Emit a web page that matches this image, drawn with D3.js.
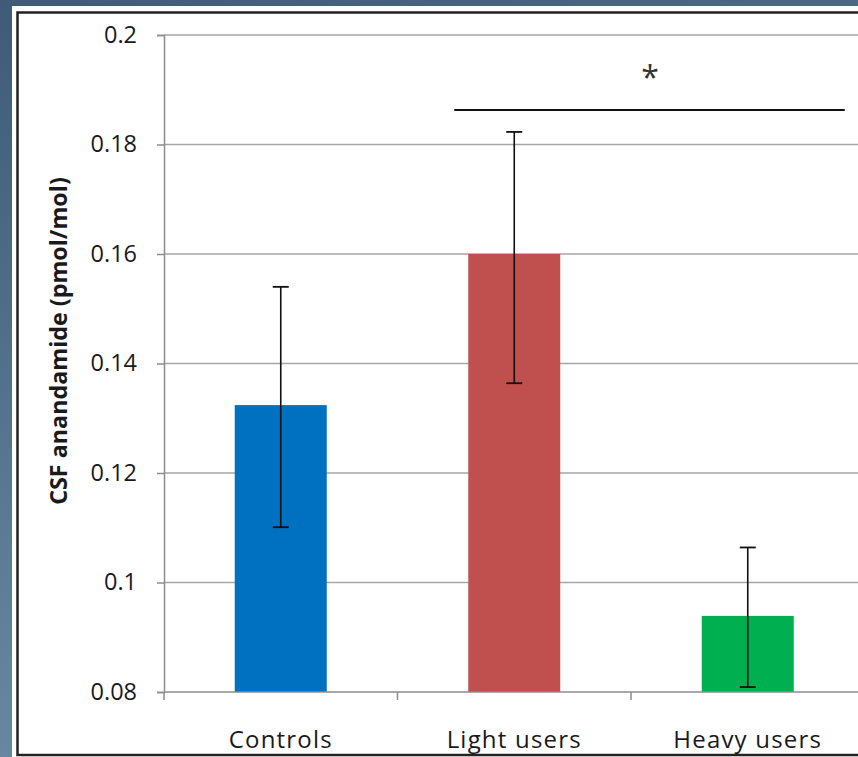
<!DOCTYPE html>
<html><head><meta charset="utf-8">
<script src="https://cdn.jsdelivr.net/npm/d3@7"></script>
<style>html,body{margin:0;padding:0;background:#4a6680;}svg{display:block;}</style>
</head><body>
<script>
const categories = ["Controls", "Light users", "Heavy users"];
const means = [0.1324, 0.160, 0.0939];
const errUpper = [0.154, 0.1823, 0.1064];
const errLower = [0.1101, 0.1364, 0.0809];
const colors = ["#0070c0", "#c0504d", "#00b050"];
const yTicks = [0.08, 0.1, 0.12, 0.14, 0.16, 0.18, 0.2];
const yTickLabels = ["0.08", "0.1", "0.12", "0.14", "0.16", "0.18", "0.2"];
const yLabel = "CSF anandamide (pmol/mol)";
const sigLabel = "*";
const sigPair = ["Light users", "Heavy users"];

const W = 858, H = 757;
const FONT = "'Open Sans', sans-serif";
const svg = d3.select("body").append("svg").attr("width", W).attr("height", H);
const defs = svg.append("defs");
const grad = defs.append("linearGradient").attr("id","bg").attr("x1","0").attr("y1","0").attr("x2","0.3").attr("y2","1");
grad.append("stop").attr("offset","0").attr("stop-color","#3f5b77");
grad.append("stop").attr("offset","1").attr("stop-color","#6b8ba4");
svg.append("rect").attr("width",W).attr("height",H).attr("fill","url(#bg)");
// white card
svg.append("rect").attr("x",12).attr("y",6).attr("width",W).attr("height",H).attr("fill","#fff");
// black frame
svg.append("rect").attr("x",17.5).attr("y",12.5).attr("width",W+10).attr("height",742.5)
  .attr("fill","none").attr("stroke","#222").attr("stroke-width",2.5);

const x0 = 164, bandW = 233.5;
const x = d3.scaleBand().domain(categories).range([x0, x0 + bandW*3]).paddingInner(0).paddingOuter(0);
const y = d3.scaleLinear().domain([0.08, 0.2]).range([692, 35]);

const g = svg.append("g");
// gridlines
g.selectAll("line.grid").data(yTicks.slice(1)).join("line")
  .attr("x1", x0).attr("x2", W).attr("y1", d=>y(d)).attr("y2", d=>y(d))
  .attr("stroke","#a6a6a6").attr("stroke-width",1.5);

// bars
const barW = 92;
g.selectAll("rect.bar").data(categories).join("rect")
  .attr("x", d => x(d) + x.bandwidth()/2 - barW/2)
  .attr("width", barW)
  .attr("y", (d,i) => y(means[i]))
  .attr("height", (d,i) => y(0.08) - y(means[i]))
  .attr("fill", (d,i) => colors[i]);

// y axis
const yAxis = d3.axisLeft(y).tickValues(yTicks).tickFormat((d,i)=>yTickLabels[i]).tickSize(7).tickPadding(20);
const ya = svg.append("g").attr("transform",`translate(${x0},0)`).call(yAxis);
ya.select(".domain").attr("stroke","#8c8c8c").attr("stroke-width",1.5);
ya.selectAll(".tick line").attr("stroke","#8c8c8c").attr("stroke-width",1.5);
ya.selectAll(".tick text").attr("font-family",FONT).attr("font-size",23.5).attr("fill","#1a1a1a").attr("dy","0.3em");

// x axis
const xAxis = d3.axisBottom(x).tickSize(0).tickPadding(0);
const xa = svg.append("g").attr("transform",`translate(0,${y(0.08)})`).call(xAxis);
xa.select(".domain").remove();
xa.append("line").attr("x1",x0).attr("x2",W).attr("stroke","#8c8c8c").attr("stroke-width",1.5);
xa.selectAll(".tick text").attr("font-family",FONT).attr("font-size",24).attr("fill","#1a1a1a")
  .attr("y",56).attr("dy",0).attr("letter-spacing","1.2px");
// category boundary ticks
const bounds = [x0, x0 + bandW, x0 + 2*bandW];
xa.selectAll("line.bt").data(bounds).join("line").attr("class","bt")
  .attr("x1",d=>d).attr("x2",d=>d).attr("y1",0).attr("y2",8)
  .attr("stroke","#8c8c8c").attr("stroke-width",1.5);

// error bars
const eb = g.selectAll("g.eb").data(categories).join("g");
eb.append("line")
  .attr("x1", d => x(d)+x.bandwidth()/2).attr("x2", d => x(d)+x.bandwidth()/2)
  .attr("y1", (d,i)=>y(errUpper[i])).attr("y2",(d,i)=>y(errLower[i]))
  .attr("stroke","#111").attr("stroke-width",1.6);
[errUpper, errLower].forEach(arr => {
  eb.append("line")
    .attr("x1", d => x(d)+x.bandwidth()/2-8).attr("x2", d => x(d)+x.bandwidth()/2+8)
    .attr("y1", (d,i)=>y(arr[i])).attr("y2",(d,i)=>y(arr[i]))
    .attr("stroke","#111").attr("stroke-width",1.8);
});

// significance
const sx1 = x(sigPair[0]) + x.bandwidth()/2 - 60;
const sx2 = x(sigPair[1]) + x.bandwidth()/2 + 97;
svg.append("line").attr("x1",sx1).attr("x2",sx2).attr("y1",110).attr("y2",110)
  .attr("stroke","#111").attr("stroke-width",1.8);
svg.append("text").attr("x",650).attr("y",89).attr("text-anchor","middle")
  .attr("font-family",FONT).attr("font-size",32).attr("fill","#333").text(sigLabel);

// y label
svg.append("text").attr("transform",`translate(67,341) rotate(-90)`).attr("text-anchor","middle")
  .attr("font-family",FONT).attr("font-weight","bold").attr("font-size",23.3)
  .attr("fill","#1a1a1a").text(yLabel);
</script>
</body></html>
